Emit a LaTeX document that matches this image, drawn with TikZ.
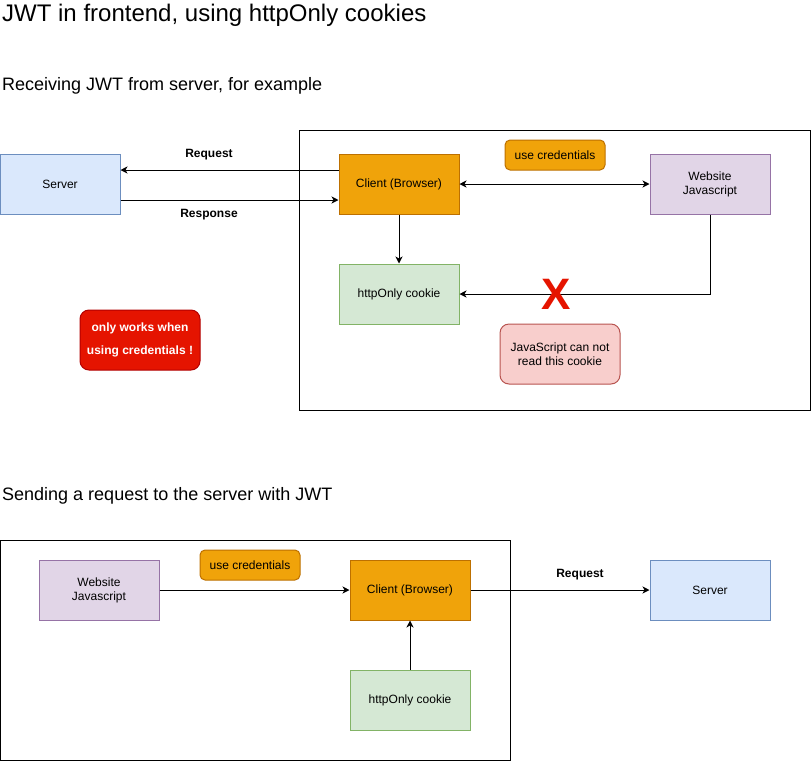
\documentclass[tikz,border=0pt]{standalone}
\usepackage{fontspec}
\setmainfont{Liberation Sans}
\usetikzlibrary{arrows.meta}
\definecolor{srvfill}{HTML}{DAE8FC}
\definecolor{srvdraw}{HTML}{6C8EBF}
\definecolor{cltfill}{HTML}{F0A30A}
\definecolor{cltdraw}{HTML}{BD7000}
\definecolor{jsfill}{HTML}{E1D5E7}
\definecolor{jsdraw}{HTML}{9673A6}
\definecolor{ckfill}{HTML}{D5E8D4}
\definecolor{ckdraw}{HTML}{82B366}
\definecolor{notefill}{HTML}{F8CECC}
\definecolor{notedraw}{HTML}{B85450}
\definecolor{warnfill}{HTML}{E51400}
\definecolor{warndraw}{HTML}{B20000}
\tikzset{
  box/.style={
    rectangle,
    line width=1pt,
    minimum width=120pt,
    minimum height=60pt,
    inner sep=0pt,
    align=center,
    font=\fontsize{12}{14}\selectfont
  },
  box-server/.style={box, fill=srvfill, draw=srvdraw},
  box-client/.style={box, fill=cltfill, draw=cltdraw},
  box-js/.style={box, fill=jsfill, draw=jsdraw},
  box-cookie/.style={box, fill=ckfill, draw=ckdraw},
  box-note/.style={box, rounded corners=9pt, fill=notefill, draw=notedraw},
  box-warn/.style={box, rounded corners=9pt, fill=warnfill, draw=warndraw,
    text=white, font=\fontsize{12}{23}\selectfont\bfseries},
  tag/.style={box, rounded corners=5pt, minimum width=100pt, minimum height=30pt,
    fill=cltfill, draw=cltdraw},
  frame/.style={draw=black, line width=1pt},
  link/.style={line width=1pt, -{Stealth[length=7pt,width=7pt,inset=2pt]}},
  link-both/.style={line width=1pt, {Stealth[length=7pt,width=7pt,inset=2pt]}-{Stealth[length=7pt,width=7pt,inset=2pt]}},
  edge-label/.style={font=\fontsize{12}{14}\selectfont\bfseries, inner sep=0pt}
}

\begin{document}
\begin{tikzpicture}[x=1pt, y=-1pt]
  \useasboundingbox (0,0) rectangle (811,761);

  % Headings
  \node[anchor=west, inner sep=0pt, font=\fontsize{24}{28}\selectfont] (title) at (2,15) {JWT in frontend, using httpOnly cookies};
  \node[anchor=west, inner sep=0pt, font=\fontsize{18}{21}\selectfont] (recv) at (2,86) {Receiving JWT from server, for example};
  \node[anchor=west, inner sep=0pt, font=\fontsize{18}{21}\selectfont] (send) at (2,496) {Sending a request to the server with JWT};

  % Receiving part
  \draw[frame] (299.5,130.5) rectangle (810.5,410.5);
  \node[box-server] (srvA) at (60,184) {Server};
  \node[box-client] (cltA) at (399,184) {Client (Browser)};
  \node[box-js] (jsA) at (710,184) {Website\\Javascript};
  \node[tag] (credA) at (555,155) {use credentials};
  \node[box-cookie] (ckA) at (399,294) {httpOnly cookie};
  \node[box-note] (noteA) at (560,354) {JavaScript can not\\read this cookie};
  \node[box-warn] (warnA) at (140,340) {only works when\\using credentials !};

  \draw[link] (cltA.west |- 0,170) -- (srvA.east |- 0,170);
  \draw[link] (srvA.east |- 0,200) -- (cltA.west |- 0,200);
  \node[edge-label] (reqA) at (209,155) {Request};
  \node[edge-label] (resA) at (209,215) {Response};
  \draw[link-both] (cltA) -- (jsA);
  \draw[link] (cltA) -- (ckA);
  \draw[link] (jsA.south) |- (ckA.east);
  \node[text=warnfill, inner sep=0pt, font=\fontsize{44}{44}\selectfont\bfseries] (nope) at (556,294) {X};

  % Sending part
  \draw[frame] (0.5,540.5) rectangle (510.5,760.5);
  \node[box-js] (jsB) at (99,590) {Website\\Javascript};
  \node[tag] (credB) at (250,565) {use credentials};
  \node[box-client] (cltB) at (410,590) {Client (Browser)};
  \node[box-cookie] (ckB) at (410,700) {httpOnly cookie};
  \node[box-server] (srvB) at (710,590) {Server};

  \draw[link] (jsB) -- (cltB);
  \draw[link] (ckB) -- (cltB);
  \draw[link] (cltB) -- (srvB);
  \node[edge-label] (reqB) at (580,575) {Request};
\end{tikzpicture}
\end{document}
